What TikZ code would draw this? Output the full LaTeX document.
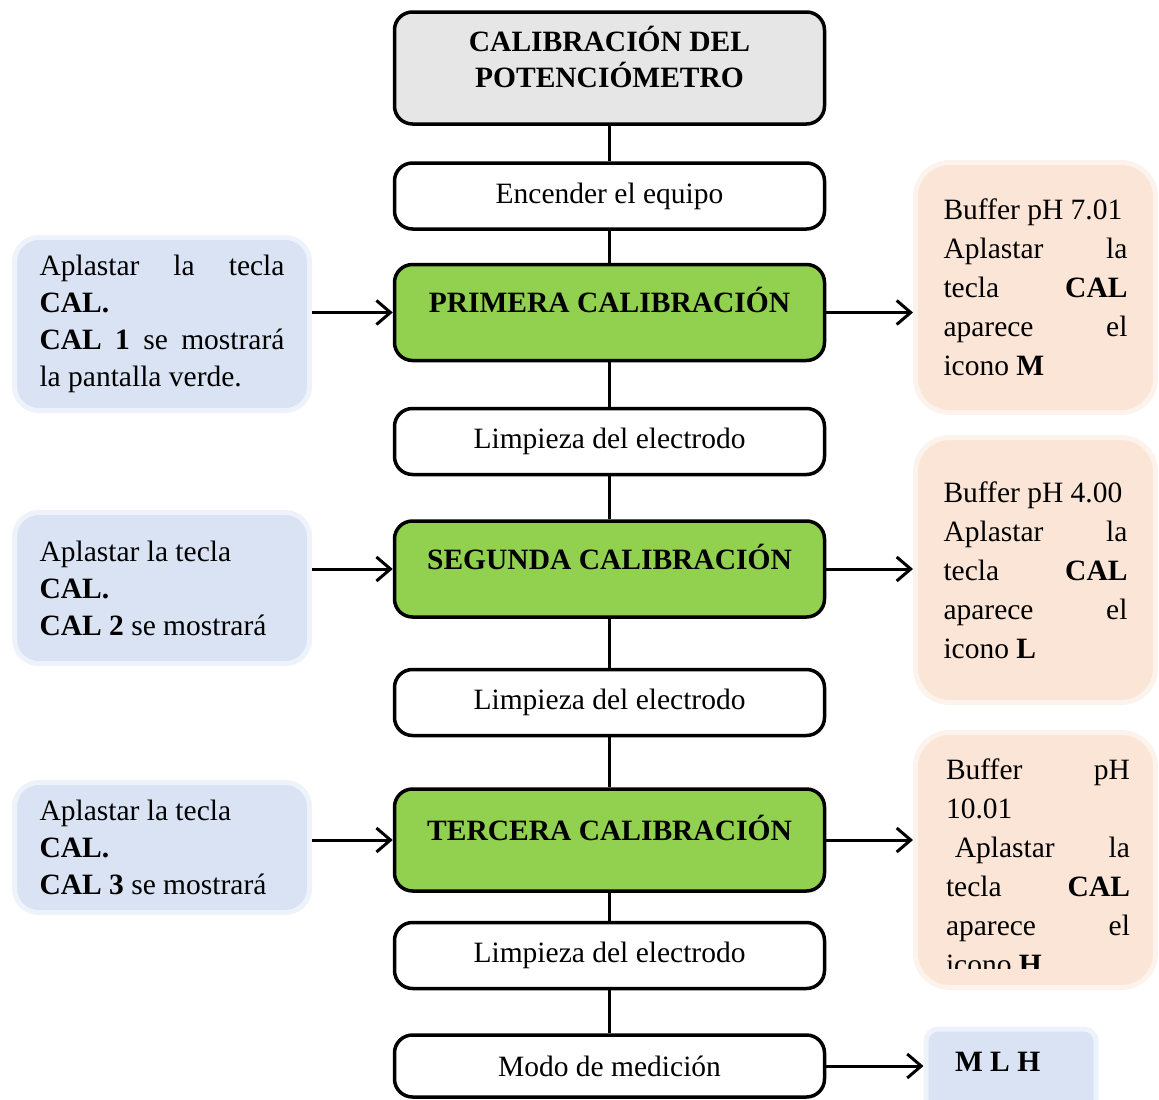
\documentclass[tikz,border=0pt]{standalone}
\usepackage{fontspec}
\setmainfont{Liberation Serif}
\usetikzlibrary{arrows.meta,positioning}
\definecolor{titlegray}{HTML}{E6E6E6}
\definecolor{calgreen}{HTML}{92D050}
\definecolor{keyblue}{HTML}{DAE3F3}
\definecolor{bufferpeach}{HTML}{FBE5D6}
\setlength{\parindent}{0pt}
\hyphenpenalty=10000
\exhyphenpenalty=10000
\tolerance=10000
\hbadness=10000
% spaces may stretch but never shrink
\newcommand\notefont[1]{\fontsize{29.5}{#1}\selectfont\spaceskip=0.25em plus 2em minus 0pt\relax}

\begin{document}
\begin{tikzpicture}[x=1pt,y=-1pt,font=\notefont{39},
  stepbox/.style={draw,line width=3.5pt,rounded corners=18pt,minimum width=430pt,minimum height=66pt,inner sep=4pt,align=center,font=\notefont{39}},
  calbox/.style={stepbox,fill=calgreen,font=\notefont{39}\bfseries,text height=44pt,text depth=44pt},
  keynote/.style={fill=keyblue,draw=keyblue!45!white,line width=5pt,rounded corners=24pt,inner xsep=25pt,text width=245pt,font=\notefont{37}},
  buffernote/.style={fill=bufferpeach,draw=bufferpeach!45!white,line width=5pt,rounded corners=34pt,minimum width=240pt,inner xsep=28pt,text width=184pt,align=justify,font=\notefont{39}},
  link/.style={line width=3.5pt},
  arr/.style={line width=3pt,-{Straight Barb[length=14pt,width=24pt]}}]
\useasboundingbox (0,0) rectangle (1159,1100);
% main column
\node[stepbox,fill=titlegray,minimum height=112pt,text depth=23pt,font=\notefont{36}\bfseries] (title) at (609.5,68) {CALIBRACIÓN DEL\\POTENCIÓMETRO};
\node[stepbox] (enc) at (609.5,196) {Encender el equipo};
\node[calbox] (cal1) at (609.5,312.5) {PRIMERA CALIBRACIÓN};
\node[stepbox] (limp1) at (609.5,441.5) {Limpieza del electrodo};
\node[calbox] (cal2) at (609.5,569) {SEGUNDA CALIBRACIÓN};
\node[stepbox] (limp2) at (609.5,702.5) {Limpieza del electrodo};
\node[calbox,text height=47pt,text depth=47pt] (cal3) at (609.5,840) {TERCERA CALIBRACIÓN};
\node[stepbox] (limp3) at (609.5,955.5) {Limpieza del electrodo};
\node[stepbox,minimum height=62pt] (modo) at (609.5,1066) {Modo de medición};
% left notes
\node[keynote,align=justify,minimum height=173pt] (key1) at (162,324) {Aplastar la tecla \textbf{CAL.}\par\textbf{CAL 1} se mostrará la pantalla verde.};
\node[keynote,align=flush left,minimum height=151pt] (key2) at (162,588) {Aplastar la tecla\\\textbf{CAL.}\\\textbf{CAL 2} se mostrará};
\node[keynote,align=flush left,minimum height=130pt] (key3) at (162,847.5) {Aplastar la tecla\\\textbf{CAL.}\\\textbf{CAL 3} se mostrará};
% right notes
\node[buffernote,minimum height=250pt] (buf1) at (1035.5,287.5) {Buffer pH 7.01\par Aplastar la tecla \textbf{CAL} aparece el icono \textbf{M}};
\node[buffernote,minimum height=265pt] (buf2) at (1035.5,570) {Buffer pH 4.00\par Aplastar la tecla \textbf{CAL} aparece el icono \textbf{L}};
\node[buffernote,minimum height=255pt] (buf3) at (1035.5,860) {};
\begin{scope}
\clip (900,735) rectangle (1159,968);
\node[anchor=north,inner sep=0pt,text width=184pt,align=justify,font=\notefont{39}] (buf3text) at (1038,759) {Buffer pH 10.01\par\hspace*{0.3em}Aplastar la tecla \textbf{CAL} aparece el icono \textbf{H}};
\end{scope}
\node[fill=keyblue,draw=keyblue!45!white,line width=5pt,rounded corners=12pt,inner xsep=29pt,inner ysep=4pt,text width=112pt,align=flush left,text height=38pt,text depth=38pt,font=\notefont{39}\bfseries] (mlh) at (1011,1071) {M L H};
% connectors
\draw[link] (title) -- (enc);
\draw[link] (enc) -- (cal1);
\draw[link] (cal1) -- (limp1);
\draw[link] (limp1) -- (cal2);
\draw[link] (cal2) -- (limp2);
\draw[link] (limp2) -- (cal3);
\draw[link] (cal3) -- (limp3);
\draw[link] (limp3) -- (modo);
% arrows
\draw[arr] (key1.east |- cal1.west) -- (cal1.west);
\draw[arr] (key2.east |- cal2.west) -- (cal2.west);
\draw[arr] (key3.east |- cal3.west) -- (cal3.west);
\draw[arr] (cal1.east) -- (buf1.west |- cal1.east);
\draw[arr] (cal2.east) -- (buf2.west |- cal2.east);
\draw[arr] (cal3.east) -- (buf3.west |- cal3.east);
\draw[arr] (modo.east) -- (mlh.west |- modo.east);
\end{tikzpicture}
\end{document}
